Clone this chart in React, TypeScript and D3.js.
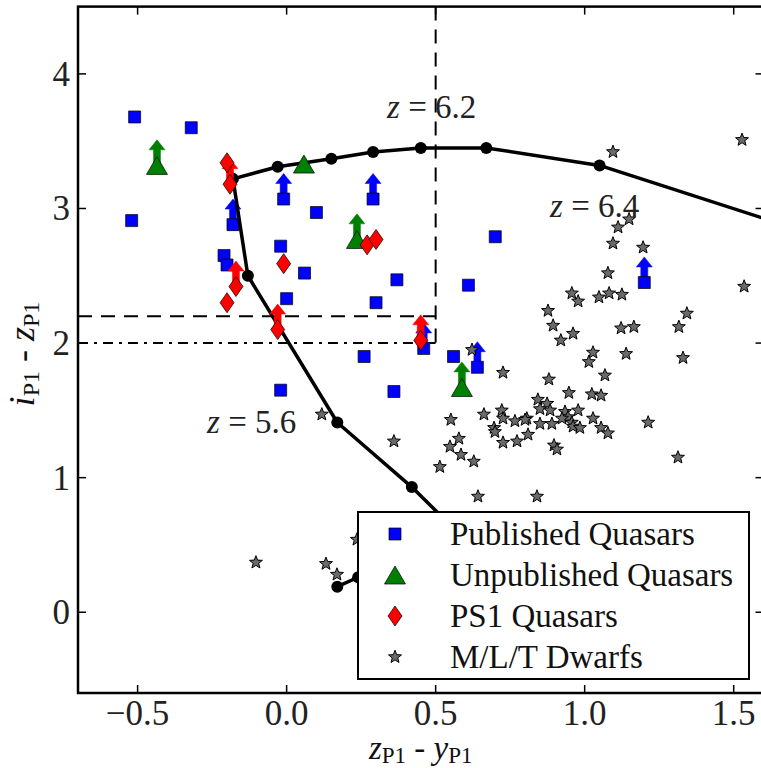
import React from "react";
import * as d3 from "d3";

// ---------- data ----------
const pubX = [-0.51, -0.32, -0.52, -0.18, -0.01, 0.10, -0.02, -0.21, -0.20, 0.06, 0.00, 0.30, 0.26, -0.02, 0.29, 0.37, 0.61, 0.70, 0.46, 0.56, 0.64, 0.36, 1.20];
const pubY = [3.68, 3.60, 2.91, 2.88, 3.07, 2.97, 2.72, 2.65, 2.58, 2.52, 2.33, 2.30, 1.90, 1.65, 3.07, 2.47, 2.43, 2.79, 1.96, 1.90, 1.82, 1.64, 2.45];
const pubLim = [0, 0, 0, 1, 1, 0, 0, 0, 0, 0, 0, 0, 0, 0, 1, 0, 0, 0, 1, 0, 1, 0, 1];

const unpubX = [-0.435, 0.058, 0.236, 0.588];
const unpubY = [3.32, 3.33, 2.77, 1.67];
const unpubLim = [1, 0, 1, 1];

const ps1X = [-0.20, -0.19, -0.01, -0.17, -0.20, -0.03, 0.27, 0.30, 0.45];
const ps1Y = [3.34, 3.18, 2.59, 2.42, 2.30, 2.10, 2.73, 2.77, 2.02];
const ps1Lim = [0, 1, 0, 1, 0, 1, 0, 0, 1];

const dwarfX = [1.528, 1.095, 1.149, 1.112, 1.095, 1.196, 1.078, 1.535, 0.957, 0.978, 1.048, 1.082, 1.125, 0.877, 0.894, 0.961, 0.920, 1.122, 1.165, 1.343, 1.316, 1.028, 1.014, 1.139, 1.330, 0.622, 0.726, 0.880, 1.068, 0.947, 1.024, 1.055, 0.843, 0.874, 0.850, 0.884, 0.934, 0.978, 0.944, 0.850, 0.890, 0.924, 0.957, 0.961, 0.984, 1.028, 1.055, 1.078, 0.806, 0.810, 0.897, 0.907, 1.213, 1.313, 0.722, 0.726, 0.662, 0.551, 0.696, 0.699, 0.766, 0.800, 0.726, 0.773, 0.578, 0.548, 0.585, 0.628, 0.514, 0.642, 0.840, 0.360, 0.118, 0.236, -0.103, 0.132, 0.169];
const dwarfY = [3.51, 3.42, 2.92, 2.86, 2.74, 2.71, 2.52, 2.42, 2.37, 2.31, 2.34, 2.37, 2.36, 2.24, 2.13, 2.07, 2.02, 2.11, 2.12, 2.22, 2.12, 1.93, 1.86, 1.92, 1.89, 1.95, 1.78, 1.73, 1.76, 1.63, 1.62, 1.61, 1.58, 1.55, 1.51, 1.50, 1.49, 1.50, 1.45, 1.40, 1.40, 1.44, 1.41, 1.38, 1.37, 1.44, 1.37, 1.33, 1.44, 1.32, 1.24, 1.21, 1.41, 1.15, 1.50, 1.44, 1.47, 1.43, 1.37, 1.34, 1.42, 1.43, 1.26, 1.27, 1.29, 1.23, 1.17, 1.12, 1.08, 0.86, 0.86, 1.27, 1.47, 0.54, 0.37, 0.36, 0.28];

const trackX = [0.17, 0.24, 0.53, 0.42, 0.17, -0.13, -0.18, -0.03, 0.15, 0.29, 0.45, 0.67, 1.05, 1.75];
const trackY = [0.19, 0.26, 0.69, 0.93, 1.41, 2.50, 3.22, 3.31, 3.37, 3.42, 3.45, 3.45, 3.32, 2.82];

const zLabels = ["6.2", "6.4", "5.6"];
const zLabelX = [0.337, 0.884, -0.267];
const zLabelY = [3.67, 2.94, 1.33];

const xTicks = [-0.5, 0.0, 0.5, 1.0, 1.5];
const yTicks = [0, 1, 2, 3, 4];

const legendLabels = ["Published Quasars", "Unpublished Quasars", "PS1 Quasars", "M/L/T Dwarfs"];

// ---------- layout ----------
const W = 761, H = 768;
const L = 78, R = 763.5, T = 6.6, B = 693;
const FONT = "Liberation Serif, DejaVu Serif, serif";
const BLUE = "#0000ff", GREEN = "#008000", RED = "#ff0000", GRAY = "#6a6a6a";
const TXT = { fontFamily: FONT } as React.CSSProperties;

const x = d3.scaleLinear().domain([-0.7, 1.6]).range([L, R]);
const y = d3.scaleLinear().domain([-0.6, 4.5]).range([B, T]);

const squarePath = (s: number) => `M${-s},${-s}H${s}V${s}H${-s}Z`;
const triPath = (w: number, h: number) => `M0,${-h}L${w},${h}L${-w},${h}Z`;
const diamondPath = (w: number, h: number) => `M0,${-h}L${w},0L0,${h}L${-w},0Z`;
const starPath = (ro: number, ri: number) => {
  const pts: string[] = [];
  for (let i = 0; i < 10; i++) {
    const r = i % 2 === 0 ? ro : ri;
    const a = -Math.PI / 2 + (i * Math.PI) / 5;
    pts.push(`${(r * Math.cos(a)).toFixed(2)},${(r * Math.sin(a)).toFixed(2)}`);
  }
  return "M" + pts.join("L") + "Z";
};

const ARROW = 0.19;
function Arrow({ xv, yv, color }: { xv: number; yv: number; color: string }) {
  const cx = x(xv), cy = y(yv), ty = y(yv + ARROW);
  const sw = 3.5, hw = 8, hl = 10;
  const pts = [
    [cx - sw, cy], [cx - sw, ty + hl], [cx - hw, ty + hl], [cx, ty],
    [cx + hw, ty + hl], [cx + sw, ty + hl], [cx + sw, cy],
  ].map((p) => p.join(",")).join(" ");
  return <polygon points={pts} fill={color} stroke={color} strokeWidth={0.5} />;
}

export default function App() {
  const line = d3.line<number>().x((_, i) => x(trackX[i])).y((_, i) => y(trackY[i]));
  const trackD = line(trackX) || "";
  const lgX = 358, lgY = 512, lgW = 391, lgH = 167;
  const base = [545, 586, 627, 668];
  return (
    <svg width={W} height={H} style={{ position: "absolute", left: 0, top: 0, background: "#fff" }}>
      <defs>
        <clipPath id="plot">
          <rect x={L} y={T} width={R - L} height={B - T} />
        </clipPath>
      </defs>
      <rect x={0} y={0} width={W} height={H} fill="#fff" />
      <g clipPath="url(#plot)">
        {/* cut lines */}
        <line x1={x(0.5)} x2={x(0.5)} y1={y(4.5)} y2={y(2.0)} stroke="#000" strokeWidth={2} strokeDasharray="14,9" />
        <line x1={x(-0.7)} x2={x(0.5)} y1={y(2.2)} y2={y(2.2)} stroke="#000" strokeWidth={2} strokeDasharray="14,9" />
        <line x1={x(-0.7)} x2={x(0.5)} y1={y(2.0)} y2={y(2.0)} stroke="#000" strokeWidth={2} strokeDasharray="10,6,3,6" />

        {/* published quasars */}
        {pubX.map((v, i) => pubLim[i] ? <Arrow key={"pa" + i} xv={v} yv={pubY[i]} color={BLUE} /> : null)}
        {pubX.map((v, i) => (
          <path key={"p" + i} d={squarePath(6)} transform={`translate(${x(v)},${y(pubY[i])})`} fill={BLUE} stroke="#000" strokeWidth={0.7} />
        ))}

        {/* track */}
        <path d={trackD} fill="none" stroke="#000" strokeWidth={3.5} strokeLinejoin="round" />
        {trackX.map((v, i) => (
          <circle key={"t" + i} cx={x(v)} cy={y(trackY[i])} r={6} fill="#000" />
        ))}

        {/* unpublished */}
        {unpubX.map((v, i) => unpubLim[i] ? <Arrow key={"ua" + i} xv={v} yv={unpubY[i]} color={GREEN} /> : null)}
        {unpubX.map((v, i) => (
          <path key={"u" + i} d={triPath(10.5, 9)} transform={`translate(${x(v)},${y(unpubY[i])})`} fill={GREEN} stroke="#000" strokeWidth={0.7} />
        ))}

        {/* PS1 */}
        {ps1X.map((v, i) => ps1Lim[i] ? <Arrow key={"ra" + i} xv={v} yv={ps1Y[i]} color={RED} /> : null)}
        {ps1X.map((v, i) => (
          <path key={"r" + i} d={diamondPath(7, 10)} transform={`translate(${x(v)},${y(ps1Y[i])})`} fill={RED} stroke="#000" strokeWidth={0.7} />
        ))}

        {/* dwarfs */}
        {dwarfX.map((v, i) => (
          <path key={"d" + i} d={starPath(6.8, 2.9)} transform={`translate(${x(v)},${y(dwarfY[i])})`} fill={GRAY} stroke="#000" strokeWidth={1} />
        ))}

        {/* redshift labels */}
        {zLabels.map((s, i) => (
          <text key={"z" + i} x={x(zLabelX[i])} y={y(zLabelY[i])} fontSize={33} fill="#222" style={TXT}>
            <tspan fontStyle="italic">z</tspan>
            <tspan> = {s}</tspan>
          </text>
        ))}

        {/* legend */}
        <rect x={lgX} y={lgY} width={lgW} height={lgH} fill="#fff" stroke="#000" strokeWidth={2} />
        <path d={squarePath(6)} transform={`translate(395,${base[0] - 11})`} fill={BLUE} stroke="#000" strokeWidth={0.7} />
        <path d={triPath(10.5, 9)} transform={`translate(395,${base[1] - 11})`} fill={GREEN} stroke="#000" strokeWidth={0.7} />
        <path d={diamondPath(7, 10)} transform={`translate(395,${base[2] - 11})`} fill={RED} stroke="#000" strokeWidth={0.7} />
        <path d={starPath(6.8, 2.9)} transform={`translate(395,${base[3] - 11})`} fill={GRAY} stroke="#000" strokeWidth={1} />
        {legendLabels.map((s, i) => (
          <text key={"lg" + i} x={450} y={base[i]} fontSize={33} fill="#111" style={TXT}>{s}</text>
        ))}
      </g>

      {/* frame */}
      <rect x={L} y={T} width={R - L} height={B - T} fill="none" stroke="#000" strokeWidth={2.5} />
      {xTicks.map((t) => (
        <g key={"xt" + t}>
          <line x1={x(t)} x2={x(t)} y1={B} y2={B - 8} stroke="#000" strokeWidth={1.5} />
          <line x1={x(t)} x2={x(t)} y1={T} y2={T + 8} stroke="#000" strokeWidth={1.5} />
          <text x={x(t)} y={725} fontSize={35} textAnchor="middle" fill="#222" style={TXT}>
            {(t < 0 ? "\u2212" : "") + Math.abs(t).toFixed(1)}
          </text>
        </g>
      ))}
      {yTicks.map((t) => (
        <g key={"yt" + t}>
          <line x1={L} x2={L + 8} y1={y(t)} y2={y(t)} stroke="#000" strokeWidth={1.5} />
          <line x1={R} x2={R - 8} y1={y(t)} y2={y(t)} stroke="#000" strokeWidth={1.5} />
          <text x={70} y={y(t) + 12} fontSize={35} textAnchor="end" fill="#222" style={TXT}>{t}</text>
        </g>
      ))}

      {/* axis labels */}
      <text x={(L + R) / 2} y={759} fontSize={33} textAnchor="middle" fill="#111" style={TXT}>
        <tspan fontStyle="italic">z</tspan>
        <tspan fontSize={23} dy={4}>P1</tspan>
        <tspan dy={-4}> - </tspan>
        <tspan fontStyle="italic">y</tspan>
        <tspan fontSize={23} dy={4}>P1</tspan>
      </text>
      <text transform={`translate(34,354) rotate(-90)`} fontSize={36} textAnchor="middle" fill="#111" style={TXT}>
        <tspan fontStyle="italic">i</tspan>
        <tspan fontSize={24} dy={5}>P1</tspan>
        <tspan dy={-5}> - </tspan>
        <tspan fontStyle="italic">z</tspan>
        <tspan fontSize={24} dy={5}>P1</tspan>
      </text>
    </svg>
  );
}
